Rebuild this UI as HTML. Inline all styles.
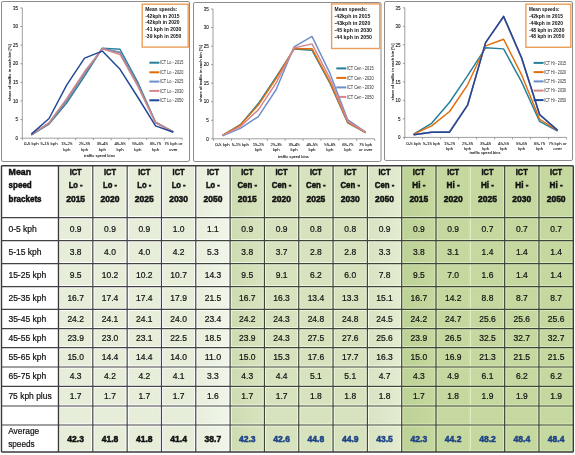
<!DOCTYPE html>
<html><head><meta charset="utf-8"><title>ICT speed distribution</title>
<style>
html,body{margin:0;padding:0;background:#fff;}
body{width:575px;height:455px;position:relative;overflow:hidden;font-family:"Liberation Sans", sans-serif;}
svg text{font-family:"Liberation Sans", sans-serif;}
</style></head><body>
<svg width="575" height="455" viewBox="0 0 575 455" style="position:absolute;left:0;top:0;filter:blur(0.3px)"><rect x="1.5" y="1.5" width="188.0" height="160.0" rx="1.5" fill="#fff" stroke="#8c8c8c" stroke-width="1"/><line x1="22.3" y1="7.9" x2="22.3" y2="138.2" stroke="#868686" stroke-width="0.8"/><line x1="22.3" y1="138.2" x2="182.175" y2="138.2" stroke="#868686" stroke-width="0.8"/><line x1="20.3" y1="138.20" x2="22.3" y2="138.20" stroke="#868686" stroke-width="0.8"/><text x="18.0" y="139.90" font-size="4.5" text-anchor="end" fill="#111" stroke="#111" stroke-width="0.1">0</text><line x1="20.3" y1="119.59" x2="22.3" y2="119.59" stroke="#868686" stroke-width="0.8"/><text x="18.0" y="121.29" font-size="4.5" text-anchor="end" fill="#111" stroke="#111" stroke-width="0.1">5</text><line x1="20.3" y1="100.97" x2="22.3" y2="100.97" stroke="#868686" stroke-width="0.8"/><text x="18.0" y="102.67" font-size="4.5" text-anchor="end" fill="#111" stroke="#111" stroke-width="0.1">10</text><line x1="20.3" y1="82.36" x2="22.3" y2="82.36" stroke="#868686" stroke-width="0.8"/><text x="18.0" y="84.06" font-size="4.5" text-anchor="end" fill="#111" stroke="#111" stroke-width="0.1">15</text><line x1="20.3" y1="63.74" x2="22.3" y2="63.74" stroke="#868686" stroke-width="0.8"/><text x="18.0" y="65.44" font-size="4.5" text-anchor="end" fill="#111" stroke="#111" stroke-width="0.1">20</text><line x1="20.3" y1="45.13" x2="22.3" y2="45.13" stroke="#868686" stroke-width="0.8"/><text x="18.0" y="46.83" font-size="4.5" text-anchor="end" fill="#111" stroke="#111" stroke-width="0.1">25</text><line x1="20.3" y1="26.51" x2="22.3" y2="26.51" stroke="#868686" stroke-width="0.8"/><text x="18.0" y="28.21" font-size="4.5" text-anchor="end" fill="#111" stroke="#111" stroke-width="0.1">30</text><line x1="20.3" y1="7.90" x2="22.3" y2="7.90" stroke="#868686" stroke-width="0.8"/><text x="18.0" y="9.60" font-size="4.5" text-anchor="end" fill="#111" stroke="#111" stroke-width="0.1">35</text><line x1="22.43" y1="138.2" x2="22.43" y2="140.2" stroke="#868686" stroke-width="0.8"/><line x1="40.17" y1="138.2" x2="40.17" y2="140.2" stroke="#868686" stroke-width="0.8"/><line x1="57.92" y1="138.2" x2="57.92" y2="140.2" stroke="#868686" stroke-width="0.8"/><line x1="75.67" y1="138.2" x2="75.67" y2="140.2" stroke="#868686" stroke-width="0.8"/><line x1="93.42" y1="138.2" x2="93.42" y2="140.2" stroke="#868686" stroke-width="0.8"/><line x1="111.17" y1="138.2" x2="111.17" y2="140.2" stroke="#868686" stroke-width="0.8"/><line x1="128.93" y1="138.2" x2="128.93" y2="140.2" stroke="#868686" stroke-width="0.8"/><line x1="146.68" y1="138.2" x2="146.68" y2="140.2" stroke="#868686" stroke-width="0.8"/><line x1="164.43" y1="138.2" x2="164.43" y2="140.2" stroke="#868686" stroke-width="0.8"/><line x1="182.18" y1="138.2" x2="182.18" y2="140.2" stroke="#868686" stroke-width="0.8"/><text x="31.30" y="144.90" font-size="4.4" text-anchor="middle" fill="#151515" stroke="#151515" stroke-width="0.08">0-5 kph</text><text x="49.05" y="144.90" font-size="4.4" text-anchor="middle" fill="#151515" stroke="#151515" stroke-width="0.08">5-15 kph</text><text x="66.80" y="144.90" font-size="4.4" text-anchor="middle" fill="#151515" stroke="#151515" stroke-width="0.08">15-25</text><text x="66.80" y="151.20" font-size="4.4" text-anchor="middle" fill="#151515" stroke="#151515" stroke-width="0.08">kph</text><text x="84.55" y="144.90" font-size="4.4" text-anchor="middle" fill="#151515" stroke="#151515" stroke-width="0.08">25-35</text><text x="84.55" y="151.20" font-size="4.4" text-anchor="middle" fill="#151515" stroke="#151515" stroke-width="0.08">kph</text><text x="102.30" y="144.90" font-size="4.4" text-anchor="middle" fill="#151515" stroke="#151515" stroke-width="0.08">35-45</text><text x="102.30" y="151.20" font-size="4.4" text-anchor="middle" fill="#151515" stroke="#151515" stroke-width="0.08">kph</text><text x="120.05" y="144.90" font-size="4.4" text-anchor="middle" fill="#151515" stroke="#151515" stroke-width="0.08">45-55</text><text x="120.05" y="151.20" font-size="4.4" text-anchor="middle" fill="#151515" stroke="#151515" stroke-width="0.08">kph</text><text x="137.80" y="144.90" font-size="4.4" text-anchor="middle" fill="#151515" stroke="#151515" stroke-width="0.08">55-65</text><text x="137.80" y="151.20" font-size="4.4" text-anchor="middle" fill="#151515" stroke="#151515" stroke-width="0.08">kph</text><text x="155.55" y="144.90" font-size="4.4" text-anchor="middle" fill="#151515" stroke="#151515" stroke-width="0.08">65-75</text><text x="155.55" y="151.20" font-size="4.4" text-anchor="middle" fill="#151515" stroke="#151515" stroke-width="0.08">kph</text><text x="173.30" y="144.90" font-size="4.4" text-anchor="middle" fill="#151515" stroke="#151515" stroke-width="0.08">75 kph or</text><text x="173.30" y="151.20" font-size="4.4" text-anchor="middle" fill="#151515" stroke="#151515" stroke-width="0.08">over</text><text x="99.50" y="156.60" font-size="4.4" font-weight="bold" text-anchor="middle" fill="#111" textLength="31" lengthAdjust="spacingAndGlyphs">traffic speed bins</text><text x="0" y="0" font-size="4.4" font-weight="bold" text-anchor="middle" fill="#111" textLength="57" lengthAdjust="spacingAndGlyphs" transform="translate(11.0,72.7) rotate(-90)">share of traffic in each bin [%]</text><polyline points="31.30,134.85 49.05,124.05 66.80,102.83 84.55,76.03 102.30,48.11 120.05,49.22 137.80,82.36 155.55,122.19 173.30,131.87" fill="none" stroke="#23809A" stroke-width="1.45" stroke-linejoin="round"/><polyline points="31.30,134.85 49.05,123.31 66.80,100.23 84.55,73.42 102.30,48.48 120.05,52.57 137.80,84.59 155.55,122.56 173.30,131.87" fill="none" stroke="#E36C0A" stroke-width="1.45" stroke-linejoin="round"/><polyline points="31.30,134.85 49.05,123.31 66.80,100.23 84.55,73.42 102.30,48.48 120.05,52.20 137.80,84.59 155.55,122.56 173.30,131.87" fill="none" stroke="#6E8DCB" stroke-width="1.45" stroke-linejoin="round"/><polyline points="31.30,134.48 49.05,122.56 66.80,98.37 84.55,71.56 102.30,48.85 120.05,54.44 137.80,86.08 155.55,122.94 173.30,131.87" fill="none" stroke="#D3878A" stroke-width="1.45" stroke-linejoin="round"/><polyline points="31.30,134.10 49.05,118.47 66.80,84.96 84.55,58.16 102.30,51.09 120.05,69.33 137.80,97.25 155.55,125.91 173.30,132.24" fill="none" stroke="#1E4797" stroke-width="1.45" stroke-linejoin="round"/><line x1="149.4" y1="62.7" x2="159.4" y2="62.7" stroke="#23809A" stroke-width="2"/><text x="159.9" y="64.3" font-size="4.5" fill="#2a2a2a" textLength="23.5" lengthAdjust="spacingAndGlyphs">ICT Lo - 2015</text><line x1="149.4" y1="72.3" x2="159.4" y2="72.3" stroke="#E36C0A" stroke-width="2"/><text x="159.9" y="73.89999999999999" font-size="4.5" fill="#2a2a2a" textLength="23.5" lengthAdjust="spacingAndGlyphs">ICT Lo - 2020</text><line x1="149.4" y1="81.6" x2="159.4" y2="81.6" stroke="#6E8DCB" stroke-width="2"/><text x="159.9" y="83.19999999999999" font-size="4.5" fill="#2a2a2a" textLength="23.5" lengthAdjust="spacingAndGlyphs">ICT Lo - 2025</text><line x1="149.4" y1="90.9" x2="159.4" y2="90.9" stroke="#D3878A" stroke-width="2"/><text x="159.9" y="92.5" font-size="4.5" fill="#2a2a2a" textLength="23.5" lengthAdjust="spacingAndGlyphs">ICT Lo - 2030</text><line x1="149.4" y1="100.3" x2="159.4" y2="100.3" stroke="#1E4797" stroke-width="2"/><text x="159.9" y="101.89999999999999" font-size="4.5" fill="#2a2a2a" textLength="23.5" lengthAdjust="spacingAndGlyphs">ICT Lo - 2050</text><rect x="142.2" y="4.2" width="46.0" height="42.9" fill="#fff" stroke="#EC9E58" stroke-width="1.4"/><text x="145.2" y="10.60" font-size="4.9" font-weight="bold" fill="#111" textLength="32" lengthAdjust="spacingAndGlyphs">Mean speeds:</text><text x="145.2" y="17.50" font-size="4.9" font-weight="bold" fill="#111" textLength="34.4" lengthAdjust="spacingAndGlyphs">-42kph in 2015</text><text x="145.2" y="24.40" font-size="4.9" font-weight="bold" fill="#111" textLength="34.4" lengthAdjust="spacingAndGlyphs">-42kph in 2020</text><text x="145.2" y="31.30" font-size="4.9" font-weight="bold" fill="#111" textLength="36.2" lengthAdjust="spacingAndGlyphs">-41 kph in 2030</text><text x="145.2" y="38.20" font-size="4.9" font-weight="bold" fill="#111" textLength="36.2" lengthAdjust="spacingAndGlyphs">-39 kph in 2050</text><rect x="193.5" y="2.5" width="187.5" height="159.0" rx="1.5" fill="#fff" stroke="#8c8c8c" stroke-width="1"/><line x1="213" y1="9.0" x2="213" y2="138.8" stroke="#868686" stroke-width="0.8"/><line x1="213" y1="138.8" x2="374.65" y2="138.8" stroke="#868686" stroke-width="0.8"/><line x1="211" y1="138.80" x2="213" y2="138.80" stroke="#868686" stroke-width="0.8"/><text x="208.7" y="140.50" font-size="4.5" text-anchor="end" fill="#111" stroke="#111" stroke-width="0.1">0</text><line x1="211" y1="120.26" x2="213" y2="120.26" stroke="#868686" stroke-width="0.8"/><text x="208.7" y="121.96" font-size="4.5" text-anchor="end" fill="#111" stroke="#111" stroke-width="0.1">5</text><line x1="211" y1="101.71" x2="213" y2="101.71" stroke="#868686" stroke-width="0.8"/><text x="208.7" y="103.41" font-size="4.5" text-anchor="end" fill="#111" stroke="#111" stroke-width="0.1">10</text><line x1="211" y1="83.17" x2="213" y2="83.17" stroke="#868686" stroke-width="0.8"/><text x="208.7" y="84.87" font-size="4.5" text-anchor="end" fill="#111" stroke="#111" stroke-width="0.1">15</text><line x1="211" y1="64.63" x2="213" y2="64.63" stroke="#868686" stroke-width="0.8"/><text x="208.7" y="66.33" font-size="4.5" text-anchor="end" fill="#111" stroke="#111" stroke-width="0.1">20</text><line x1="211" y1="46.09" x2="213" y2="46.09" stroke="#868686" stroke-width="0.8"/><text x="208.7" y="47.79" font-size="4.5" text-anchor="end" fill="#111" stroke="#111" stroke-width="0.1">25</text><line x1="211" y1="27.54" x2="213" y2="27.54" stroke="#868686" stroke-width="0.8"/><text x="208.7" y="29.24" font-size="4.5" text-anchor="end" fill="#111" stroke="#111" stroke-width="0.1">30</text><line x1="211" y1="9.00" x2="213" y2="9.00" stroke="#868686" stroke-width="0.8"/><text x="208.7" y="10.70" font-size="4.5" text-anchor="end" fill="#111" stroke="#111" stroke-width="0.1">35</text><line x1="213.55" y1="138.8" x2="213.55" y2="140.8" stroke="#868686" stroke-width="0.8"/><line x1="231.45" y1="138.8" x2="231.45" y2="140.8" stroke="#868686" stroke-width="0.8"/><line x1="249.35" y1="138.8" x2="249.35" y2="140.8" stroke="#868686" stroke-width="0.8"/><line x1="267.25" y1="138.8" x2="267.25" y2="140.8" stroke="#868686" stroke-width="0.8"/><line x1="285.15" y1="138.8" x2="285.15" y2="140.8" stroke="#868686" stroke-width="0.8"/><line x1="303.05" y1="138.8" x2="303.05" y2="140.8" stroke="#868686" stroke-width="0.8"/><line x1="320.95" y1="138.8" x2="320.95" y2="140.8" stroke="#868686" stroke-width="0.8"/><line x1="338.85" y1="138.8" x2="338.85" y2="140.8" stroke="#868686" stroke-width="0.8"/><line x1="356.75" y1="138.8" x2="356.75" y2="140.8" stroke="#868686" stroke-width="0.8"/><line x1="374.65" y1="138.8" x2="374.65" y2="140.8" stroke="#868686" stroke-width="0.8"/><text x="222.50" y="145.60" font-size="4.4" text-anchor="middle" fill="#151515" stroke="#151515" stroke-width="0.08">0-5 kph</text><text x="240.40" y="145.60" font-size="4.4" text-anchor="middle" fill="#151515" stroke="#151515" stroke-width="0.08">5-15 kph</text><text x="258.30" y="145.60" font-size="4.4" text-anchor="middle" fill="#151515" stroke="#151515" stroke-width="0.08">15-25</text><text x="258.30" y="151.30" font-size="4.4" text-anchor="middle" fill="#151515" stroke="#151515" stroke-width="0.08">kph</text><text x="276.20" y="145.60" font-size="4.4" text-anchor="middle" fill="#151515" stroke="#151515" stroke-width="0.08">25-35</text><text x="276.20" y="151.30" font-size="4.4" text-anchor="middle" fill="#151515" stroke="#151515" stroke-width="0.08">kph</text><text x="294.10" y="145.60" font-size="4.4" text-anchor="middle" fill="#151515" stroke="#151515" stroke-width="0.08">35-45</text><text x="294.10" y="151.30" font-size="4.4" text-anchor="middle" fill="#151515" stroke="#151515" stroke-width="0.08">kph</text><text x="312.00" y="145.60" font-size="4.4" text-anchor="middle" fill="#151515" stroke="#151515" stroke-width="0.08">45-55</text><text x="312.00" y="151.30" font-size="4.4" text-anchor="middle" fill="#151515" stroke="#151515" stroke-width="0.08">kph</text><text x="329.90" y="145.60" font-size="4.4" text-anchor="middle" fill="#151515" stroke="#151515" stroke-width="0.08">55-65</text><text x="329.90" y="151.30" font-size="4.4" text-anchor="middle" fill="#151515" stroke="#151515" stroke-width="0.08">kph</text><text x="347.80" y="145.60" font-size="4.4" text-anchor="middle" fill="#151515" stroke="#151515" stroke-width="0.08">65-75</text><text x="347.80" y="151.30" font-size="4.4" text-anchor="middle" fill="#151515" stroke="#151515" stroke-width="0.08">kph</text><text x="365.70" y="145.60" font-size="4.4" text-anchor="middle" fill="#151515" stroke="#151515" stroke-width="0.08">75 kph</text><text x="365.70" y="151.30" font-size="4.4" text-anchor="middle" fill="#151515" stroke="#151515" stroke-width="0.08">or over</text><text x="293.40" y="157.50" font-size="4.4" font-weight="bold" text-anchor="middle" fill="#111" textLength="31" lengthAdjust="spacingAndGlyphs">traffic speed bins</text><text x="0" y="0" font-size="4.4" font-weight="bold" text-anchor="middle" fill="#111" textLength="57" lengthAdjust="spacingAndGlyphs" transform="translate(201.9,73.4) rotate(-90)">share of traffic in each bin [%]</text><polyline points="222.50,135.46 240.40,124.71 258.30,103.57 276.20,76.87 294.10,49.05 312.00,50.17 329.90,83.17 347.80,122.85 365.70,132.50" fill="none" stroke="#23809A" stroke-width="1.45" stroke-linejoin="round"/><polyline points="222.50,135.46 240.40,125.08 258.30,105.05 276.20,78.35 294.10,48.68 312.00,48.68 329.90,82.06 347.80,122.48 365.70,132.50" fill="none" stroke="#E36C0A" stroke-width="1.45" stroke-linejoin="round"/><polyline points="222.50,135.83 240.40,128.42 258.30,116.55 276.20,89.48 294.10,46.83 312.00,36.44 329.90,73.16 347.80,119.89 365.70,132.12" fill="none" stroke="#6E8DCB" stroke-width="1.45" stroke-linejoin="round"/><polyline points="222.50,135.46 240.40,126.56 258.30,109.87 276.20,82.80 294.10,47.94 312.00,43.86 329.90,78.35 347.80,121.37 365.70,132.12" fill="none" stroke="#D3878A" stroke-width="1.45" stroke-linejoin="round"/><line x1="336.3" y1="68.4" x2="346.3" y2="68.4" stroke="#23809A" stroke-width="2"/><text x="346.8" y="70.0" font-size="4.5" fill="#2a2a2a" textLength="26.8" lengthAdjust="spacingAndGlyphs">ICT Cen - 2015</text><line x1="336.3" y1="77.9" x2="346.3" y2="77.9" stroke="#E36C0A" stroke-width="2"/><text x="346.8" y="79.5" font-size="4.5" fill="#2a2a2a" textLength="26.8" lengthAdjust="spacingAndGlyphs">ICT Cen - 2020</text><line x1="336.3" y1="87.4" x2="346.3" y2="87.4" stroke="#6E8DCB" stroke-width="2"/><text x="346.8" y="89.0" font-size="4.5" fill="#2a2a2a" textLength="26.8" lengthAdjust="spacingAndGlyphs">ICT Cen - 2030</text><line x1="336.3" y1="96.9" x2="346.3" y2="96.9" stroke="#D3878A" stroke-width="2"/><text x="346.8" y="98.5" font-size="4.5" fill="#2a2a2a" textLength="26.8" lengthAdjust="spacingAndGlyphs">ICT Cen - 2050</text><rect x="331.6" y="3.9" width="48.19999999999999" height="44.6" fill="#fff" stroke="#EC9E58" stroke-width="1.4"/><text x="334.6" y="10.70" font-size="4.9" font-weight="bold" fill="#111" textLength="32.8" lengthAdjust="spacingAndGlyphs">Mean speeds:</text><text x="334.6" y="17.80" font-size="4.9" font-weight="bold" fill="#111" textLength="35.8" lengthAdjust="spacingAndGlyphs">-42kph in 2015</text><text x="334.6" y="24.90" font-size="4.9" font-weight="bold" fill="#111" textLength="35.8" lengthAdjust="spacingAndGlyphs">-43kph in 2020</text><text x="334.6" y="32.00" font-size="4.9" font-weight="bold" fill="#111" textLength="37.4" lengthAdjust="spacingAndGlyphs">-45 kph in 2030</text><text x="334.6" y="39.10" font-size="4.9" font-weight="bold" fill="#111" textLength="37.4" lengthAdjust="spacingAndGlyphs">-44 kph in 2050</text><rect x="384.5" y="1.5" width="188.0" height="159.0" rx="1.5" fill="#fff" stroke="#8c8c8c" stroke-width="1"/><line x1="404.8" y1="7.8" x2="404.8" y2="137.4" stroke="#868686" stroke-width="0.8"/><line x1="404.8" y1="137.4" x2="566.6" y2="137.4" stroke="#868686" stroke-width="0.8"/><line x1="402.8" y1="137.40" x2="404.8" y2="137.40" stroke="#868686" stroke-width="0.8"/><text x="400.5" y="139.10" font-size="4.5" text-anchor="end" fill="#111" stroke="#111" stroke-width="0.1">0</text><line x1="402.8" y1="118.89" x2="404.8" y2="118.89" stroke="#868686" stroke-width="0.8"/><text x="400.5" y="120.59" font-size="4.5" text-anchor="end" fill="#111" stroke="#111" stroke-width="0.1">5</text><line x1="402.8" y1="100.37" x2="404.8" y2="100.37" stroke="#868686" stroke-width="0.8"/><text x="400.5" y="102.07" font-size="4.5" text-anchor="end" fill="#111" stroke="#111" stroke-width="0.1">10</text><line x1="402.8" y1="81.86" x2="404.8" y2="81.86" stroke="#868686" stroke-width="0.8"/><text x="400.5" y="83.56" font-size="4.5" text-anchor="end" fill="#111" stroke="#111" stroke-width="0.1">15</text><line x1="402.8" y1="63.34" x2="404.8" y2="63.34" stroke="#868686" stroke-width="0.8"/><text x="400.5" y="65.04" font-size="4.5" text-anchor="end" fill="#111" stroke="#111" stroke-width="0.1">20</text><line x1="402.8" y1="44.83" x2="404.8" y2="44.83" stroke="#868686" stroke-width="0.8"/><text x="400.5" y="46.53" font-size="4.5" text-anchor="end" fill="#111" stroke="#111" stroke-width="0.1">25</text><line x1="402.8" y1="26.31" x2="404.8" y2="26.31" stroke="#868686" stroke-width="0.8"/><text x="400.5" y="28.01" font-size="4.5" text-anchor="end" fill="#111" stroke="#111" stroke-width="0.1">30</text><line x1="402.8" y1="7.80" x2="404.8" y2="7.80" stroke="#868686" stroke-width="0.8"/><text x="400.5" y="9.50" font-size="4.5" text-anchor="end" fill="#111" stroke="#111" stroke-width="0.1">35</text><line x1="404.60" y1="137.4" x2="404.60" y2="139.4" stroke="#868686" stroke-width="0.8"/><line x1="422.60" y1="137.4" x2="422.60" y2="139.4" stroke="#868686" stroke-width="0.8"/><line x1="440.60" y1="137.4" x2="440.60" y2="139.4" stroke="#868686" stroke-width="0.8"/><line x1="458.60" y1="137.4" x2="458.60" y2="139.4" stroke="#868686" stroke-width="0.8"/><line x1="476.60" y1="137.4" x2="476.60" y2="139.4" stroke="#868686" stroke-width="0.8"/><line x1="494.60" y1="137.4" x2="494.60" y2="139.4" stroke="#868686" stroke-width="0.8"/><line x1="512.60" y1="137.4" x2="512.60" y2="139.4" stroke="#868686" stroke-width="0.8"/><line x1="530.60" y1="137.4" x2="530.60" y2="139.4" stroke="#868686" stroke-width="0.8"/><line x1="548.60" y1="137.4" x2="548.60" y2="139.4" stroke="#868686" stroke-width="0.8"/><line x1="566.60" y1="137.4" x2="566.60" y2="139.4" stroke="#868686" stroke-width="0.8"/><text x="413.60" y="145.00" font-size="4.4" text-anchor="middle" fill="#151515" stroke="#151515" stroke-width="0.08">0-5 kph</text><text x="431.60" y="145.00" font-size="4.4" text-anchor="middle" fill="#151515" stroke="#151515" stroke-width="0.08">5-15 kph</text><text x="449.60" y="145.00" font-size="4.4" text-anchor="middle" fill="#151515" stroke="#151515" stroke-width="0.08">15-25</text><text x="449.60" y="150.00" font-size="4.4" text-anchor="middle" fill="#151515" stroke="#151515" stroke-width="0.08">kph</text><text x="467.60" y="145.00" font-size="4.4" text-anchor="middle" fill="#151515" stroke="#151515" stroke-width="0.08">25-35</text><text x="467.60" y="150.00" font-size="4.4" text-anchor="middle" fill="#151515" stroke="#151515" stroke-width="0.08">kph</text><text x="485.60" y="145.00" font-size="4.4" text-anchor="middle" fill="#151515" stroke="#151515" stroke-width="0.08">35-45</text><text x="485.60" y="150.00" font-size="4.4" text-anchor="middle" fill="#151515" stroke="#151515" stroke-width="0.08">kph</text><text x="503.60" y="145.00" font-size="4.4" text-anchor="middle" fill="#151515" stroke="#151515" stroke-width="0.08">45-55</text><text x="503.60" y="150.00" font-size="4.4" text-anchor="middle" fill="#151515" stroke="#151515" stroke-width="0.08">kph</text><text x="521.60" y="145.00" font-size="4.4" text-anchor="middle" fill="#151515" stroke="#151515" stroke-width="0.08">55-65</text><text x="521.60" y="150.00" font-size="4.4" text-anchor="middle" fill="#151515" stroke="#151515" stroke-width="0.08">kph</text><text x="539.60" y="145.00" font-size="4.4" text-anchor="middle" fill="#151515" stroke="#151515" stroke-width="0.08">65-75</text><text x="539.60" y="150.00" font-size="4.4" text-anchor="middle" fill="#151515" stroke="#151515" stroke-width="0.08">kph</text><text x="557.60" y="145.00" font-size="4.4" text-anchor="middle" fill="#151515" stroke="#151515" stroke-width="0.08">75 kph or</text><text x="557.60" y="150.00" font-size="4.4" text-anchor="middle" fill="#151515" stroke="#151515" stroke-width="0.08">over</text><text x="485.00" y="153.90" font-size="4.4" font-weight="bold" text-anchor="middle" fill="#111" textLength="31" lengthAdjust="spacingAndGlyphs">traffic speed bins</text><text x="0" y="0" font-size="4.4" font-weight="bold" text-anchor="middle" fill="#111" textLength="57" lengthAdjust="spacingAndGlyphs" transform="translate(393.9,72.0) rotate(-90)">share of traffic in each bin [%]</text><polyline points="413.60,134.07 431.60,123.33 449.60,102.22 467.60,75.56 485.60,47.79 503.60,48.90 521.60,81.86 539.60,121.48 557.60,131.11" fill="none" stroke="#23809A" stroke-width="1.45" stroke-linejoin="round"/><polyline points="413.60,134.07 431.60,125.92 449.60,111.48 467.60,84.82 485.60,45.94 503.60,39.27 521.60,74.82 539.60,119.26 557.60,130.73" fill="none" stroke="#E36C0A" stroke-width="1.45" stroke-linejoin="round"/><polyline points="413.60,134.81 431.60,132.22 449.60,131.48 467.60,104.81 485.60,42.61 503.60,17.06 521.60,58.53 539.60,114.81 557.60,130.36" fill="none" stroke="#6E8DCB" stroke-width="1.45" stroke-linejoin="round"/><polyline points="413.60,134.81 431.60,132.22 449.60,132.22 467.60,105.19 485.60,42.61 503.60,16.32 521.60,57.79 539.60,114.44 557.60,130.36" fill="none" stroke="#D3878A" stroke-width="1.45" stroke-linejoin="round"/><polyline points="413.60,134.81 431.60,132.22 449.60,132.22 467.60,105.19 485.60,42.61 503.60,16.32 521.60,57.79 539.60,114.44 557.60,130.36" fill="none" stroke="#1E4797" stroke-width="1.45" stroke-linejoin="round"/><line x1="533.6" y1="62.9" x2="543.6" y2="62.9" stroke="#23809A" stroke-width="2"/><text x="544.1" y="64.5" font-size="4.5" fill="#2a2a2a" textLength="22.0" lengthAdjust="spacingAndGlyphs">ICT Hi - 2015</text><line x1="533.6" y1="72.1" x2="543.6" y2="72.1" stroke="#E36C0A" stroke-width="2"/><text x="544.1" y="73.69999999999999" font-size="4.5" fill="#2a2a2a" textLength="22.0" lengthAdjust="spacingAndGlyphs">ICT Hi - 2020</text><line x1="533.6" y1="81.4" x2="543.6" y2="81.4" stroke="#6E8DCB" stroke-width="2"/><text x="544.1" y="83.0" font-size="4.5" fill="#2a2a2a" textLength="22.0" lengthAdjust="spacingAndGlyphs">ICT Hi - 2025</text><line x1="533.6" y1="90.6" x2="543.6" y2="90.6" stroke="#D3878A" stroke-width="2"/><text x="544.1" y="92.19999999999999" font-size="4.5" fill="#2a2a2a" textLength="22.0" lengthAdjust="spacingAndGlyphs">ICT Hi - 2030</text><line x1="533.6" y1="100.1" x2="543.6" y2="100.1" stroke="#1E4797" stroke-width="2"/><text x="544.1" y="101.69999999999999" font-size="4.5" fill="#2a2a2a" textLength="22.0" lengthAdjust="spacingAndGlyphs">ICT Hi - 2050</text><rect x="525.9" y="4.2" width="44.89999999999998" height="43.099999999999994" fill="#fff" stroke="#EC9E58" stroke-width="1.4"/><text x="528.9" y="10.80" font-size="4.9" font-weight="bold" fill="#111" textLength="30.6" lengthAdjust="spacingAndGlyphs">Mean speeds:</text><text x="528.9" y="17.70" font-size="4.9" font-weight="bold" fill="#111" textLength="34.1" lengthAdjust="spacingAndGlyphs">-42kph in 2015</text><text x="528.9" y="24.60" font-size="4.9" font-weight="bold" fill="#111" textLength="34.1" lengthAdjust="spacingAndGlyphs">-44kph in 2020</text><text x="528.9" y="31.50" font-size="4.9" font-weight="bold" fill="#111" textLength="35.5" lengthAdjust="spacingAndGlyphs">-48 kph in 2030</text><text x="528.9" y="38.40" font-size="4.9" font-weight="bold" fill="#111" textLength="35.5" lengthAdjust="spacingAndGlyphs">-48 kph in 2050</text><defs><linearGradient id="g4" x1="0" y1="0" x2="1" y2="0"><stop offset="0" stop-color="#E8EFDC"/><stop offset="1" stop-color="#F0F5E9"/></linearGradient><linearGradient id="g5" x1="0" y1="0" x2="1" y2="0"><stop offset="0" stop-color="#CEDCB2"/><stop offset="1" stop-color="#D7E3BE"/></linearGradient><linearGradient id="g9" x1="0" y1="0" x2="1" y2="0"><stop offset="0" stop-color="#D9E4C3"/><stop offset="1" stop-color="#E3EBD1"/></linearGradient><linearGradient id="g10" x1="0" y1="0" x2="1" y2="0"><stop offset="0" stop-color="#BDD296"/><stop offset="1" stop-color="#C5D89F"/></linearGradient></defs><rect x="1.5" y="165.7" width="57.0" height="286.3" fill="#fff"/><rect x="58.5" y="165.7" width="34.31999999999999" height="286.3" fill="#FFFFFF"/><rect x="60.10" y="167.20" width="31.12" height="49.00" fill="#E6EDD9"/><rect x="60.10" y="219.20" width="31.12" height="19.90" fill="#E6EDD9"/><rect x="60.10" y="242.10" width="31.12" height="20.00" fill="#E6EDD9"/><rect x="60.10" y="265.10" width="31.12" height="20.10" fill="#E6EDD9"/><rect x="60.10" y="288.20" width="31.12" height="19.70" fill="#E6EDD9"/><rect x="60.10" y="310.90" width="31.12" height="16.20" fill="#E6EDD9"/><rect x="60.10" y="330.10" width="31.12" height="16.10" fill="#E6EDD9"/><rect x="60.10" y="349.20" width="31.12" height="16.30" fill="#E6EDD9"/><rect x="60.10" y="368.50" width="31.12" height="16.40" fill="#E6EDD9"/><rect x="60.10" y="387.90" width="31.12" height="16.60" fill="#E6EDD9"/><rect x="60.10" y="407.50" width="31.12" height="16.00" fill="#E6EDD9"/><rect x="60.10" y="426.50" width="31.12" height="24.00" fill="#E6EDD9"/><rect x="92.82" y="165.7" width="34.32000000000001" height="286.3" fill="#FFFFFF"/><rect x="94.42" y="167.20" width="31.12" height="49.00" fill="#E6EDD9"/><rect x="94.42" y="219.20" width="31.12" height="19.90" fill="#E6EDD9"/><rect x="94.42" y="242.10" width="31.12" height="20.00" fill="#E6EDD9"/><rect x="94.42" y="265.10" width="31.12" height="20.10" fill="#E6EDD9"/><rect x="94.42" y="288.20" width="31.12" height="19.70" fill="#E6EDD9"/><rect x="94.42" y="310.90" width="31.12" height="16.20" fill="#E6EDD9"/><rect x="94.42" y="330.10" width="31.12" height="16.10" fill="#E6EDD9"/><rect x="94.42" y="349.20" width="31.12" height="16.30" fill="#E6EDD9"/><rect x="94.42" y="368.50" width="31.12" height="16.40" fill="#E6EDD9"/><rect x="94.42" y="387.90" width="31.12" height="16.60" fill="#E6EDD9"/><rect x="94.42" y="407.50" width="31.12" height="16.00" fill="#E6EDD9"/><rect x="94.42" y="426.50" width="31.12" height="24.00" fill="#E6EDD9"/><rect x="127.14" y="165.7" width="34.32000000000001" height="286.3" fill="#FFFFFF"/><rect x="128.74" y="167.20" width="31.12" height="49.00" fill="#E6EDD9"/><rect x="128.74" y="219.20" width="31.12" height="19.90" fill="#E6EDD9"/><rect x="128.74" y="242.10" width="31.12" height="20.00" fill="#E6EDD9"/><rect x="128.74" y="265.10" width="31.12" height="20.10" fill="#E6EDD9"/><rect x="128.74" y="288.20" width="31.12" height="19.70" fill="#E6EDD9"/><rect x="128.74" y="310.90" width="31.12" height="16.20" fill="#E6EDD9"/><rect x="128.74" y="330.10" width="31.12" height="16.10" fill="#E6EDD9"/><rect x="128.74" y="349.20" width="31.12" height="16.30" fill="#E6EDD9"/><rect x="128.74" y="368.50" width="31.12" height="16.40" fill="#E6EDD9"/><rect x="128.74" y="387.90" width="31.12" height="16.60" fill="#E6EDD9"/><rect x="128.74" y="407.50" width="31.12" height="16.00" fill="#E6EDD9"/><rect x="128.74" y="426.50" width="31.12" height="24.00" fill="#E6EDD9"/><rect x="161.46" y="165.7" width="34.31999999999999" height="286.3" fill="#FFFFFF"/><rect x="163.06" y="167.20" width="31.12" height="49.00" fill="#E6EDD9"/><rect x="163.06" y="219.20" width="31.12" height="19.90" fill="#E6EDD9"/><rect x="163.06" y="242.10" width="31.12" height="20.00" fill="#E6EDD9"/><rect x="163.06" y="265.10" width="31.12" height="20.10" fill="#E6EDD9"/><rect x="163.06" y="288.20" width="31.12" height="19.70" fill="#E6EDD9"/><rect x="163.06" y="310.90" width="31.12" height="16.20" fill="#E6EDD9"/><rect x="163.06" y="330.10" width="31.12" height="16.10" fill="#E6EDD9"/><rect x="163.06" y="349.20" width="31.12" height="16.30" fill="#E6EDD9"/><rect x="163.06" y="368.50" width="31.12" height="16.40" fill="#E6EDD9"/><rect x="163.06" y="387.90" width="31.12" height="16.60" fill="#E6EDD9"/><rect x="163.06" y="407.50" width="31.12" height="16.00" fill="#E6EDD9"/><rect x="163.06" y="426.50" width="31.12" height="24.00" fill="#E6EDD9"/><rect x="195.78" y="165.7" width="34.31999999999999" height="286.3" fill="#FFFFFF"/><rect x="197.38" y="167.20" width="31.12" height="49.00" fill="url(#g4)"/><rect x="197.38" y="219.20" width="31.12" height="19.90" fill="url(#g4)"/><rect x="197.38" y="242.10" width="31.12" height="20.00" fill="url(#g4)"/><rect x="197.38" y="265.10" width="31.12" height="20.10" fill="url(#g4)"/><rect x="197.38" y="288.20" width="31.12" height="19.70" fill="url(#g4)"/><rect x="197.38" y="310.90" width="31.12" height="16.20" fill="url(#g4)"/><rect x="197.38" y="330.10" width="31.12" height="16.10" fill="url(#g4)"/><rect x="197.38" y="349.20" width="31.12" height="16.30" fill="url(#g4)"/><rect x="197.38" y="368.50" width="31.12" height="16.40" fill="url(#g4)"/><rect x="197.38" y="387.90" width="31.12" height="16.60" fill="url(#g4)"/><rect x="197.38" y="407.50" width="31.12" height="16.00" fill="url(#g4)"/><rect x="197.38" y="426.50" width="31.12" height="24.00" fill="url(#g4)"/><rect x="230.1" y="165.7" width="34.32000000000002" height="286.3" fill="#F2F8E2"/><rect x="231.70" y="167.20" width="31.12" height="49.00" fill="url(#g5)"/><rect x="231.70" y="219.20" width="31.12" height="19.90" fill="url(#g5)"/><rect x="231.70" y="242.10" width="31.12" height="20.00" fill="url(#g5)"/><rect x="231.70" y="265.10" width="31.12" height="20.10" fill="url(#g5)"/><rect x="231.70" y="288.20" width="31.12" height="19.70" fill="url(#g5)"/><rect x="231.70" y="310.90" width="31.12" height="16.20" fill="url(#g5)"/><rect x="231.70" y="330.10" width="31.12" height="16.10" fill="url(#g5)"/><rect x="231.70" y="349.20" width="31.12" height="16.30" fill="url(#g5)"/><rect x="231.70" y="368.50" width="31.12" height="16.40" fill="url(#g5)"/><rect x="231.70" y="387.90" width="31.12" height="16.60" fill="url(#g5)"/><rect x="231.70" y="407.50" width="31.12" height="16.00" fill="url(#g5)"/><rect x="231.70" y="426.50" width="31.12" height="24.00" fill="url(#g5)"/><rect x="264.42" y="165.7" width="34.31999999999999" height="286.3" fill="#F2F8E2"/><rect x="266.02" y="167.20" width="31.12" height="49.00" fill="#D7E3BE"/><rect x="266.02" y="219.20" width="31.12" height="19.90" fill="#D7E3BE"/><rect x="266.02" y="242.10" width="31.12" height="20.00" fill="#D7E3BE"/><rect x="266.02" y="265.10" width="31.12" height="20.10" fill="#D7E3BE"/><rect x="266.02" y="288.20" width="31.12" height="19.70" fill="#D7E3BE"/><rect x="266.02" y="310.90" width="31.12" height="16.20" fill="#D7E3BE"/><rect x="266.02" y="330.10" width="31.12" height="16.10" fill="#D7E3BE"/><rect x="266.02" y="349.20" width="31.12" height="16.30" fill="#D7E3BE"/><rect x="266.02" y="368.50" width="31.12" height="16.40" fill="#D7E3BE"/><rect x="266.02" y="387.90" width="31.12" height="16.60" fill="#D7E3BE"/><rect x="266.02" y="407.50" width="31.12" height="16.00" fill="#D7E3BE"/><rect x="266.02" y="426.50" width="31.12" height="24.00" fill="#D7E3BE"/><rect x="298.74" y="165.7" width="34.31999999999999" height="286.3" fill="#F2F8E2"/><rect x="300.34" y="167.20" width="31.12" height="49.00" fill="#D7E3BE"/><rect x="300.34" y="219.20" width="31.12" height="19.90" fill="#D7E3BE"/><rect x="300.34" y="242.10" width="31.12" height="20.00" fill="#D7E3BE"/><rect x="300.34" y="265.10" width="31.12" height="20.10" fill="#D7E3BE"/><rect x="300.34" y="288.20" width="31.12" height="19.70" fill="#D7E3BE"/><rect x="300.34" y="310.90" width="31.12" height="16.20" fill="#D7E3BE"/><rect x="300.34" y="330.10" width="31.12" height="16.10" fill="#D7E3BE"/><rect x="300.34" y="349.20" width="31.12" height="16.30" fill="#D7E3BE"/><rect x="300.34" y="368.50" width="31.12" height="16.40" fill="#D7E3BE"/><rect x="300.34" y="387.90" width="31.12" height="16.60" fill="#D7E3BE"/><rect x="300.34" y="407.50" width="31.12" height="16.00" fill="#D7E3BE"/><rect x="300.34" y="426.50" width="31.12" height="24.00" fill="#D7E3BE"/><rect x="333.06" y="165.7" width="34.31999999999999" height="286.3" fill="#F2F8E2"/><rect x="334.66" y="167.20" width="31.12" height="49.00" fill="#D7E3BE"/><rect x="334.66" y="219.20" width="31.12" height="19.90" fill="#D7E3BE"/><rect x="334.66" y="242.10" width="31.12" height="20.00" fill="#D7E3BE"/><rect x="334.66" y="265.10" width="31.12" height="20.10" fill="#D7E3BE"/><rect x="334.66" y="288.20" width="31.12" height="19.70" fill="#D7E3BE"/><rect x="334.66" y="310.90" width="31.12" height="16.20" fill="#D7E3BE"/><rect x="334.66" y="330.10" width="31.12" height="16.10" fill="#D7E3BE"/><rect x="334.66" y="349.20" width="31.12" height="16.30" fill="#D7E3BE"/><rect x="334.66" y="368.50" width="31.12" height="16.40" fill="#D7E3BE"/><rect x="334.66" y="387.90" width="31.12" height="16.60" fill="#D7E3BE"/><rect x="334.66" y="407.50" width="31.12" height="16.00" fill="#D7E3BE"/><rect x="334.66" y="426.50" width="31.12" height="24.00" fill="#D7E3BE"/><rect x="367.38" y="165.7" width="34.31999999999999" height="286.3" fill="#F2F8E2"/><rect x="368.98" y="167.20" width="31.12" height="49.00" fill="url(#g9)"/><rect x="368.98" y="219.20" width="31.12" height="19.90" fill="url(#g9)"/><rect x="368.98" y="242.10" width="31.12" height="20.00" fill="url(#g9)"/><rect x="368.98" y="265.10" width="31.12" height="20.10" fill="url(#g9)"/><rect x="368.98" y="288.20" width="31.12" height="19.70" fill="url(#g9)"/><rect x="368.98" y="310.90" width="31.12" height="16.20" fill="url(#g9)"/><rect x="368.98" y="330.10" width="31.12" height="16.10" fill="url(#g9)"/><rect x="368.98" y="349.20" width="31.12" height="16.30" fill="url(#g9)"/><rect x="368.98" y="368.50" width="31.12" height="16.40" fill="url(#g9)"/><rect x="368.98" y="387.90" width="31.12" height="16.60" fill="url(#g9)"/><rect x="368.98" y="407.50" width="31.12" height="16.00" fill="url(#g9)"/><rect x="368.98" y="426.50" width="31.12" height="24.00" fill="url(#g9)"/><rect x="401.7" y="165.7" width="34.31999999999999" height="286.3" fill="#DDEBBD"/><rect x="403.30" y="167.20" width="31.12" height="49.00" fill="url(#g10)"/><rect x="403.30" y="219.20" width="31.12" height="19.90" fill="url(#g10)"/><rect x="403.30" y="242.10" width="31.12" height="20.00" fill="url(#g10)"/><rect x="403.30" y="265.10" width="31.12" height="20.10" fill="url(#g10)"/><rect x="403.30" y="288.20" width="31.12" height="19.70" fill="url(#g10)"/><rect x="403.30" y="310.90" width="31.12" height="16.20" fill="url(#g10)"/><rect x="403.30" y="330.10" width="31.12" height="16.10" fill="url(#g10)"/><rect x="403.30" y="349.20" width="31.12" height="16.30" fill="url(#g10)"/><rect x="403.30" y="368.50" width="31.12" height="16.40" fill="url(#g10)"/><rect x="403.30" y="387.90" width="31.12" height="16.60" fill="url(#g10)"/><rect x="403.30" y="407.50" width="31.12" height="16.00" fill="url(#g10)"/><rect x="403.30" y="426.50" width="31.12" height="24.00" fill="url(#g10)"/><rect x="436.02" y="165.7" width="34.32000000000005" height="286.3" fill="#DDEBBD"/><rect x="437.62" y="167.20" width="31.12" height="49.00" fill="#C5D89F"/><rect x="437.62" y="219.20" width="31.12" height="19.90" fill="#C5D89F"/><rect x="437.62" y="242.10" width="31.12" height="20.00" fill="#C5D89F"/><rect x="437.62" y="265.10" width="31.12" height="20.10" fill="#C5D89F"/><rect x="437.62" y="288.20" width="31.12" height="19.70" fill="#C5D89F"/><rect x="437.62" y="310.90" width="31.12" height="16.20" fill="#C5D89F"/><rect x="437.62" y="330.10" width="31.12" height="16.10" fill="#C5D89F"/><rect x="437.62" y="349.20" width="31.12" height="16.30" fill="#C5D89F"/><rect x="437.62" y="368.50" width="31.12" height="16.40" fill="#C5D89F"/><rect x="437.62" y="387.90" width="31.12" height="16.60" fill="#C5D89F"/><rect x="437.62" y="407.50" width="31.12" height="16.00" fill="#C5D89F"/><rect x="437.62" y="426.50" width="31.12" height="24.00" fill="#C5D89F"/><rect x="470.34000000000003" y="165.7" width="34.31999999999999" height="286.3" fill="#DDEBBD"/><rect x="471.94" y="167.20" width="31.12" height="49.00" fill="#C5D89F"/><rect x="471.94" y="219.20" width="31.12" height="19.90" fill="#C5D89F"/><rect x="471.94" y="242.10" width="31.12" height="20.00" fill="#C5D89F"/><rect x="471.94" y="265.10" width="31.12" height="20.10" fill="#C5D89F"/><rect x="471.94" y="288.20" width="31.12" height="19.70" fill="#C5D89F"/><rect x="471.94" y="310.90" width="31.12" height="16.20" fill="#C5D89F"/><rect x="471.94" y="330.10" width="31.12" height="16.10" fill="#C5D89F"/><rect x="471.94" y="349.20" width="31.12" height="16.30" fill="#C5D89F"/><rect x="471.94" y="368.50" width="31.12" height="16.40" fill="#C5D89F"/><rect x="471.94" y="387.90" width="31.12" height="16.60" fill="#C5D89F"/><rect x="471.94" y="407.50" width="31.12" height="16.00" fill="#C5D89F"/><rect x="471.94" y="426.50" width="31.12" height="24.00" fill="#C5D89F"/><rect x="504.66" y="165.7" width="34.31999999999999" height="286.3" fill="#DDEBBD"/><rect x="506.26" y="167.20" width="31.12" height="49.00" fill="#C5D89F"/><rect x="506.26" y="219.20" width="31.12" height="19.90" fill="#C5D89F"/><rect x="506.26" y="242.10" width="31.12" height="20.00" fill="#C5D89F"/><rect x="506.26" y="265.10" width="31.12" height="20.10" fill="#C5D89F"/><rect x="506.26" y="288.20" width="31.12" height="19.70" fill="#C5D89F"/><rect x="506.26" y="310.90" width="31.12" height="16.20" fill="#C5D89F"/><rect x="506.26" y="330.10" width="31.12" height="16.10" fill="#C5D89F"/><rect x="506.26" y="349.20" width="31.12" height="16.30" fill="#C5D89F"/><rect x="506.26" y="368.50" width="31.12" height="16.40" fill="#C5D89F"/><rect x="506.26" y="387.90" width="31.12" height="16.60" fill="#C5D89F"/><rect x="506.26" y="407.50" width="31.12" height="16.00" fill="#C5D89F"/><rect x="506.26" y="426.50" width="31.12" height="24.00" fill="#C5D89F"/><rect x="538.98" y="165.7" width="34.319999999999936" height="286.3" fill="#DDEBBD"/><rect x="540.58" y="167.20" width="31.12" height="49.00" fill="#C5D89F"/><rect x="540.58" y="219.20" width="31.12" height="19.90" fill="#C5D89F"/><rect x="540.58" y="242.10" width="31.12" height="20.00" fill="#C5D89F"/><rect x="540.58" y="265.10" width="31.12" height="20.10" fill="#C5D89F"/><rect x="540.58" y="288.20" width="31.12" height="19.70" fill="#C5D89F"/><rect x="540.58" y="310.90" width="31.12" height="16.20" fill="#C5D89F"/><rect x="540.58" y="330.10" width="31.12" height="16.10" fill="#C5D89F"/><rect x="540.58" y="349.20" width="31.12" height="16.30" fill="#C5D89F"/><rect x="540.58" y="368.50" width="31.12" height="16.40" fill="#C5D89F"/><rect x="540.58" y="387.90" width="31.12" height="16.60" fill="#C5D89F"/><rect x="540.58" y="407.50" width="31.12" height="16.00" fill="#C5D89F"/><rect x="540.58" y="426.50" width="31.12" height="24.00" fill="#C5D89F"/><rect x="468.64" y="167.20" width="3.4" height="49.00" fill="#C5D89F"/><rect x="468.64" y="219.20" width="3.4" height="19.90" fill="#C5D89F"/><rect x="468.64" y="242.10" width="3.4" height="20.00" fill="#C5D89F"/><rect x="468.64" y="265.10" width="3.4" height="20.10" fill="#C5D89F"/><rect x="468.64" y="288.20" width="3.4" height="19.70" fill="#C5D89F"/><rect x="468.64" y="310.90" width="3.4" height="16.20" fill="#C5D89F"/><rect x="468.64" y="330.10" width="3.4" height="16.10" fill="#C5D89F"/><rect x="468.64" y="349.20" width="3.4" height="16.30" fill="#C5D89F"/><rect x="468.64" y="368.50" width="3.4" height="16.40" fill="#C5D89F"/><rect x="468.64" y="387.90" width="3.4" height="16.60" fill="#C5D89F"/><rect x="468.64" y="407.50" width="3.4" height="16.00" fill="#C5D89F"/><rect x="468.64" y="426.50" width="3.4" height="24.00" fill="#C5D89F"/><line x1="470.34" y1="165.7" x2="470.34" y2="452.0" stroke="#E3EFC8" stroke-width="1.1"/><line x1="1.50" y1="165.7" x2="1.50" y2="452.0" stroke="#3a3a3a" stroke-width="1.4"/><line x1="58.50" y1="165.7" x2="58.50" y2="452.0" stroke="#3a3a3a" stroke-width="1.4"/><line x1="92.82" y1="165.7" x2="92.82" y2="452.0" stroke="#434343" stroke-width="1.2"/><line x1="127.14" y1="165.7" x2="127.14" y2="452.0" stroke="#434343" stroke-width="1.2"/><line x1="161.46" y1="165.7" x2="161.46" y2="452.0" stroke="#434343" stroke-width="1.2"/><line x1="195.78" y1="165.7" x2="195.78" y2="452.0" stroke="#434343" stroke-width="1.2"/><line x1="230.10" y1="165.7" x2="230.10" y2="452.0" stroke="#3e463a" stroke-width="1.2"/><line x1="264.42" y1="165.7" x2="264.42" y2="452.0" stroke="#3e463a" stroke-width="1.2"/><line x1="298.74" y1="165.7" x2="298.74" y2="452.0" stroke="#3e463a" stroke-width="1.2"/><line x1="333.06" y1="165.7" x2="333.06" y2="452.0" stroke="#3e463a" stroke-width="1.2"/><line x1="367.38" y1="165.7" x2="367.38" y2="452.0" stroke="#3e463a" stroke-width="1.2"/><line x1="401.70" y1="165.7" x2="401.70" y2="452.0" stroke="#3e463a" stroke-width="1.2"/><line x1="436.02" y1="165.7" x2="436.02" y2="452.0" stroke="#3e463a" stroke-width="1.2"/><line x1="504.66" y1="165.7" x2="504.66" y2="452.0" stroke="#3e463a" stroke-width="1.2"/><line x1="538.98" y1="165.7" x2="538.98" y2="452.0" stroke="#3e463a" stroke-width="1.2"/><line x1="573.30" y1="165.7" x2="573.30" y2="452.0" stroke="#3a3a3a" stroke-width="1.4"/><line x1="1.5" y1="165.7" x2="161.46" y2="165.7" stroke="#3a3a3a" stroke-width="1.4"/><line x1="161.46" y1="165.7" x2="573.30" y2="165.7" stroke="#3a3a3a" stroke-width="1.4"/><line x1="1.5" y1="217.7" x2="161.46" y2="217.7" stroke="#434343" stroke-width="1.2"/><line x1="161.46" y1="217.7" x2="573.30" y2="217.7" stroke="#3e463a" stroke-width="1.2"/><line x1="1.5" y1="240.6" x2="161.46" y2="240.6" stroke="#434343" stroke-width="1.2"/><line x1="161.46" y1="240.6" x2="573.30" y2="240.6" stroke="#3e463a" stroke-width="1.2"/><line x1="1.5" y1="263.6" x2="161.46" y2="263.6" stroke="#434343" stroke-width="1.2"/><line x1="161.46" y1="263.6" x2="573.30" y2="263.6" stroke="#3e463a" stroke-width="1.2"/><line x1="1.5" y1="286.7" x2="161.46" y2="286.7" stroke="#434343" stroke-width="1.2"/><line x1="161.46" y1="286.7" x2="573.30" y2="286.7" stroke="#3e463a" stroke-width="1.2"/><line x1="1.5" y1="309.4" x2="161.46" y2="309.4" stroke="#434343" stroke-width="1.2"/><line x1="161.46" y1="309.4" x2="573.30" y2="309.4" stroke="#3e463a" stroke-width="1.2"/><line x1="1.5" y1="328.6" x2="161.46" y2="328.6" stroke="#434343" stroke-width="1.2"/><line x1="161.46" y1="328.6" x2="573.30" y2="328.6" stroke="#3e463a" stroke-width="1.2"/><line x1="1.5" y1="347.7" x2="161.46" y2="347.7" stroke="#434343" stroke-width="1.2"/><line x1="161.46" y1="347.7" x2="573.30" y2="347.7" stroke="#3e463a" stroke-width="1.2"/><line x1="1.5" y1="367.0" x2="161.46" y2="367.0" stroke="#434343" stroke-width="1.2"/><line x1="161.46" y1="367.0" x2="573.30" y2="367.0" stroke="#3e463a" stroke-width="1.2"/><line x1="1.5" y1="386.4" x2="161.46" y2="386.4" stroke="#434343" stroke-width="1.2"/><line x1="161.46" y1="386.4" x2="573.30" y2="386.4" stroke="#3e463a" stroke-width="1.2"/><line x1="1.5" y1="406.0" x2="161.46" y2="406.0" stroke="#434343" stroke-width="1.2"/><line x1="161.46" y1="406.0" x2="573.30" y2="406.0" stroke="#3e463a" stroke-width="1.2"/><line x1="1.5" y1="425.0" x2="161.46" y2="425.0" stroke="#434343" stroke-width="1.2"/><line x1="161.46" y1="425.0" x2="573.30" y2="425.0" stroke="#3e463a" stroke-width="1.2"/><line x1="1.5" y1="452.0" x2="161.46" y2="452.0" stroke="#3a3a3a" stroke-width="1.4"/><line x1="161.46" y1="452.0" x2="573.30" y2="452.0" stroke="#3a3a3a" stroke-width="1.4"/><text x="75.66" y="175.10" font-size="9.2" font-weight="bold" text-anchor="middle" fill="#111" stroke="#111" stroke-width="0.5" textLength="12.05" lengthAdjust="spacingAndGlyphs">ICT</text><text x="75.66" y="188.40" font-size="9.2" font-weight="bold" text-anchor="middle" fill="#111" stroke="#111" stroke-width="0.5" textLength="13.93" lengthAdjust="spacingAndGlyphs">Lo -</text><text x="75.66" y="201.70" font-size="9.2" font-weight="bold" text-anchor="middle" fill="#111" stroke="#111" stroke-width="0.5" textLength="18.92" lengthAdjust="spacingAndGlyphs">2015</text><text x="109.98" y="175.10" font-size="9.2" font-weight="bold" text-anchor="middle" fill="#111" stroke="#111" stroke-width="0.5" textLength="12.05" lengthAdjust="spacingAndGlyphs">ICT</text><text x="109.98" y="188.40" font-size="9.2" font-weight="bold" text-anchor="middle" fill="#111" stroke="#111" stroke-width="0.5" textLength="13.93" lengthAdjust="spacingAndGlyphs">Lo -</text><text x="109.98" y="201.70" font-size="9.2" font-weight="bold" text-anchor="middle" fill="#111" stroke="#111" stroke-width="0.5" textLength="18.92" lengthAdjust="spacingAndGlyphs">2020</text><text x="144.30" y="175.10" font-size="9.2" font-weight="bold" text-anchor="middle" fill="#111" stroke="#111" stroke-width="0.5" textLength="12.05" lengthAdjust="spacingAndGlyphs">ICT</text><text x="144.30" y="188.40" font-size="9.2" font-weight="bold" text-anchor="middle" fill="#111" stroke="#111" stroke-width="0.5" textLength="13.93" lengthAdjust="spacingAndGlyphs">Lo -</text><text x="144.30" y="201.70" font-size="9.2" font-weight="bold" text-anchor="middle" fill="#111" stroke="#111" stroke-width="0.5" textLength="18.92" lengthAdjust="spacingAndGlyphs">2025</text><text x="178.62" y="175.10" font-size="9.2" font-weight="bold" text-anchor="middle" fill="#111" stroke="#111" stroke-width="0.5" textLength="12.05" lengthAdjust="spacingAndGlyphs">ICT</text><text x="178.62" y="188.40" font-size="9.2" font-weight="bold" text-anchor="middle" fill="#111" stroke="#111" stroke-width="0.5" textLength="13.93" lengthAdjust="spacingAndGlyphs">Lo -</text><text x="178.62" y="201.70" font-size="9.2" font-weight="bold" text-anchor="middle" fill="#111" stroke="#111" stroke-width="0.5" textLength="18.92" lengthAdjust="spacingAndGlyphs">2030</text><text x="212.94" y="175.10" font-size="9.2" font-weight="bold" text-anchor="middle" fill="#111" stroke="#111" stroke-width="0.5" textLength="12.05" lengthAdjust="spacingAndGlyphs">ICT</text><text x="212.94" y="188.40" font-size="9.2" font-weight="bold" text-anchor="middle" fill="#111" stroke="#111" stroke-width="0.5" textLength="13.93" lengthAdjust="spacingAndGlyphs">Lo -</text><text x="212.94" y="201.70" font-size="9.2" font-weight="bold" text-anchor="middle" fill="#111" stroke="#111" stroke-width="0.5" textLength="18.92" lengthAdjust="spacingAndGlyphs">2050</text><text x="247.26" y="175.10" font-size="9.2" font-weight="bold" text-anchor="middle" fill="#111" stroke="#111" stroke-width="0.5" textLength="12.05" lengthAdjust="spacingAndGlyphs">ICT</text><text x="247.26" y="188.40" font-size="9.2" font-weight="bold" text-anchor="middle" fill="#111" stroke="#111" stroke-width="0.5" textLength="19.60" lengthAdjust="spacingAndGlyphs">Cen -</text><text x="247.26" y="201.70" font-size="9.2" font-weight="bold" text-anchor="middle" fill="#111" stroke="#111" stroke-width="0.5" textLength="18.92" lengthAdjust="spacingAndGlyphs">2015</text><text x="281.58" y="175.10" font-size="9.2" font-weight="bold" text-anchor="middle" fill="#111" stroke="#111" stroke-width="0.5" textLength="12.05" lengthAdjust="spacingAndGlyphs">ICT</text><text x="281.58" y="188.40" font-size="9.2" font-weight="bold" text-anchor="middle" fill="#111" stroke="#111" stroke-width="0.5" textLength="19.60" lengthAdjust="spacingAndGlyphs">Cen -</text><text x="281.58" y="201.70" font-size="9.2" font-weight="bold" text-anchor="middle" fill="#111" stroke="#111" stroke-width="0.5" textLength="18.92" lengthAdjust="spacingAndGlyphs">2020</text><text x="315.90" y="175.10" font-size="9.2" font-weight="bold" text-anchor="middle" fill="#111" stroke="#111" stroke-width="0.5" textLength="12.05" lengthAdjust="spacingAndGlyphs">ICT</text><text x="315.90" y="188.40" font-size="9.2" font-weight="bold" text-anchor="middle" fill="#111" stroke="#111" stroke-width="0.5" textLength="19.60" lengthAdjust="spacingAndGlyphs">Cen -</text><text x="315.90" y="201.70" font-size="9.2" font-weight="bold" text-anchor="middle" fill="#111" stroke="#111" stroke-width="0.5" textLength="18.92" lengthAdjust="spacingAndGlyphs">2025</text><text x="350.22" y="175.10" font-size="9.2" font-weight="bold" text-anchor="middle" fill="#111" stroke="#111" stroke-width="0.5" textLength="12.05" lengthAdjust="spacingAndGlyphs">ICT</text><text x="350.22" y="188.40" font-size="9.2" font-weight="bold" text-anchor="middle" fill="#111" stroke="#111" stroke-width="0.5" textLength="19.60" lengthAdjust="spacingAndGlyphs">Cen -</text><text x="350.22" y="201.70" font-size="9.2" font-weight="bold" text-anchor="middle" fill="#111" stroke="#111" stroke-width="0.5" textLength="18.92" lengthAdjust="spacingAndGlyphs">2030</text><text x="384.54" y="175.10" font-size="9.2" font-weight="bold" text-anchor="middle" fill="#111" stroke="#111" stroke-width="0.5" textLength="12.05" lengthAdjust="spacingAndGlyphs">ICT</text><text x="384.54" y="188.40" font-size="9.2" font-weight="bold" text-anchor="middle" fill="#111" stroke="#111" stroke-width="0.5" textLength="19.60" lengthAdjust="spacingAndGlyphs">Cen -</text><text x="384.54" y="201.70" font-size="9.2" font-weight="bold" text-anchor="middle" fill="#111" stroke="#111" stroke-width="0.5" textLength="18.92" lengthAdjust="spacingAndGlyphs">2050</text><text x="418.86" y="175.10" font-size="9.2" font-weight="bold" text-anchor="middle" fill="#111" stroke="#111" stroke-width="0.5" textLength="12.05" lengthAdjust="spacingAndGlyphs">ICT</text><text x="418.86" y="188.40" font-size="9.2" font-weight="bold" text-anchor="middle" fill="#111" stroke="#111" stroke-width="0.5" textLength="13.14" lengthAdjust="spacingAndGlyphs">Hi -</text><text x="418.86" y="201.70" font-size="9.2" font-weight="bold" text-anchor="middle" fill="#111" stroke="#111" stroke-width="0.5" textLength="18.92" lengthAdjust="spacingAndGlyphs">2015</text><text x="453.18" y="175.10" font-size="9.2" font-weight="bold" text-anchor="middle" fill="#111" stroke="#111" stroke-width="0.5" textLength="12.05" lengthAdjust="spacingAndGlyphs">ICT</text><text x="453.18" y="188.40" font-size="9.2" font-weight="bold" text-anchor="middle" fill="#111" stroke="#111" stroke-width="0.5" textLength="13.14" lengthAdjust="spacingAndGlyphs">Hi -</text><text x="453.18" y="201.70" font-size="9.2" font-weight="bold" text-anchor="middle" fill="#111" stroke="#111" stroke-width="0.5" textLength="18.92" lengthAdjust="spacingAndGlyphs">2020</text><text x="487.50" y="175.10" font-size="9.2" font-weight="bold" text-anchor="middle" fill="#111" stroke="#111" stroke-width="0.5" textLength="12.05" lengthAdjust="spacingAndGlyphs">ICT</text><text x="487.50" y="188.40" font-size="9.2" font-weight="bold" text-anchor="middle" fill="#111" stroke="#111" stroke-width="0.5" textLength="13.14" lengthAdjust="spacingAndGlyphs">Hi -</text><text x="487.50" y="201.70" font-size="9.2" font-weight="bold" text-anchor="middle" fill="#111" stroke="#111" stroke-width="0.5" textLength="18.92" lengthAdjust="spacingAndGlyphs">2025</text><text x="521.82" y="175.10" font-size="9.2" font-weight="bold" text-anchor="middle" fill="#111" stroke="#111" stroke-width="0.5" textLength="12.05" lengthAdjust="spacingAndGlyphs">ICT</text><text x="521.82" y="188.40" font-size="9.2" font-weight="bold" text-anchor="middle" fill="#111" stroke="#111" stroke-width="0.5" textLength="13.14" lengthAdjust="spacingAndGlyphs">Hi -</text><text x="521.82" y="201.70" font-size="9.2" font-weight="bold" text-anchor="middle" fill="#111" stroke="#111" stroke-width="0.5" textLength="18.92" lengthAdjust="spacingAndGlyphs">2030</text><text x="556.14" y="175.10" font-size="9.2" font-weight="bold" text-anchor="middle" fill="#111" stroke="#111" stroke-width="0.5" textLength="12.05" lengthAdjust="spacingAndGlyphs">ICT</text><text x="556.14" y="188.40" font-size="9.2" font-weight="bold" text-anchor="middle" fill="#111" stroke="#111" stroke-width="0.5" textLength="13.14" lengthAdjust="spacingAndGlyphs">Hi -</text><text x="556.14" y="201.70" font-size="9.2" font-weight="bold" text-anchor="middle" fill="#111" stroke="#111" stroke-width="0.5" textLength="18.92" lengthAdjust="spacingAndGlyphs">2050</text><text x="8.60" y="175.10" font-size="9.2" font-weight="bold" fill="#111" stroke="#111" stroke-width="0.5" textLength="22.47" lengthAdjust="spacingAndGlyphs">Mean</text><text x="8.60" y="188.40" font-size="9.2" font-weight="bold" fill="#111" stroke="#111" stroke-width="0.5" textLength="23.13" lengthAdjust="spacingAndGlyphs">speed</text><text x="8.60" y="201.70" font-size="9.2" font-weight="bold" fill="#111" stroke="#111" stroke-width="0.5" textLength="32.96" lengthAdjust="spacingAndGlyphs">brackets</text><text x="8.40" y="231.75" font-size="9.2" fill="#111" stroke="#111" stroke-width="0.22" textLength="28.47" lengthAdjust="spacingAndGlyphs">0-5 kph</text><text x="75.66" y="231.75" font-size="9.2" text-anchor="middle" fill="#111" stroke="#111" stroke-width="0.22" textLength="11.81" lengthAdjust="spacingAndGlyphs">0.9</text><text x="109.98" y="231.75" font-size="9.2" text-anchor="middle" fill="#111" stroke="#111" stroke-width="0.22" textLength="11.81" lengthAdjust="spacingAndGlyphs">0.9</text><text x="144.30" y="231.75" font-size="9.2" text-anchor="middle" fill="#111" stroke="#111" stroke-width="0.22" textLength="11.81" lengthAdjust="spacingAndGlyphs">0.9</text><text x="178.62" y="231.75" font-size="9.2" text-anchor="middle" fill="#111" stroke="#111" stroke-width="0.22" textLength="11.81" lengthAdjust="spacingAndGlyphs">1.0</text><text x="212.94" y="231.75" font-size="9.2" text-anchor="middle" fill="#111" stroke="#111" stroke-width="0.22" textLength="11.81" lengthAdjust="spacingAndGlyphs">1.1</text><text x="247.26" y="231.75" font-size="9.2" text-anchor="middle" fill="#111" stroke="#111" stroke-width="0.22" textLength="11.81" lengthAdjust="spacingAndGlyphs">0.9</text><text x="281.58" y="231.75" font-size="9.2" text-anchor="middle" fill="#111" stroke="#111" stroke-width="0.22" textLength="11.81" lengthAdjust="spacingAndGlyphs">0.9</text><text x="315.90" y="231.75" font-size="9.2" text-anchor="middle" fill="#111" stroke="#111" stroke-width="0.22" textLength="11.81" lengthAdjust="spacingAndGlyphs">0.8</text><text x="350.22" y="231.75" font-size="9.2" text-anchor="middle" fill="#111" stroke="#111" stroke-width="0.22" textLength="11.81" lengthAdjust="spacingAndGlyphs">0.8</text><text x="384.54" y="231.75" font-size="9.2" text-anchor="middle" fill="#111" stroke="#111" stroke-width="0.22" textLength="11.81" lengthAdjust="spacingAndGlyphs">0.9</text><text x="418.86" y="231.75" font-size="9.2" text-anchor="middle" fill="#111" stroke="#111" stroke-width="0.22" textLength="11.81" lengthAdjust="spacingAndGlyphs">0.9</text><text x="453.18" y="231.75" font-size="9.2" text-anchor="middle" fill="#111" stroke="#111" stroke-width="0.22" textLength="11.81" lengthAdjust="spacingAndGlyphs">0.9</text><text x="487.50" y="231.75" font-size="9.2" text-anchor="middle" fill="#111" stroke="#111" stroke-width="0.22" textLength="11.81" lengthAdjust="spacingAndGlyphs">0.7</text><text x="521.82" y="231.75" font-size="9.2" text-anchor="middle" fill="#111" stroke="#111" stroke-width="0.22" textLength="11.81" lengthAdjust="spacingAndGlyphs">0.7</text><text x="556.14" y="231.75" font-size="9.2" text-anchor="middle" fill="#111" stroke="#111" stroke-width="0.22" textLength="11.81" lengthAdjust="spacingAndGlyphs">0.7</text><text x="8.40" y="254.70" font-size="9.2" fill="#111" stroke="#111" stroke-width="0.22" textLength="33.20" lengthAdjust="spacingAndGlyphs">5-15 kph</text><text x="75.66" y="254.70" font-size="9.2" text-anchor="middle" fill="#111" stroke="#111" stroke-width="0.22" textLength="11.81" lengthAdjust="spacingAndGlyphs">3.8</text><text x="109.98" y="254.70" font-size="9.2" text-anchor="middle" fill="#111" stroke="#111" stroke-width="0.22" textLength="11.81" lengthAdjust="spacingAndGlyphs">4.0</text><text x="144.30" y="254.70" font-size="9.2" text-anchor="middle" fill="#111" stroke="#111" stroke-width="0.22" textLength="11.81" lengthAdjust="spacingAndGlyphs">4.0</text><text x="178.62" y="254.70" font-size="9.2" text-anchor="middle" fill="#111" stroke="#111" stroke-width="0.22" textLength="11.81" lengthAdjust="spacingAndGlyphs">4.2</text><text x="212.94" y="254.70" font-size="9.2" text-anchor="middle" fill="#111" stroke="#111" stroke-width="0.22" textLength="11.81" lengthAdjust="spacingAndGlyphs">5.3</text><text x="247.26" y="254.70" font-size="9.2" text-anchor="middle" fill="#111" stroke="#111" stroke-width="0.22" textLength="11.81" lengthAdjust="spacingAndGlyphs">3.8</text><text x="281.58" y="254.70" font-size="9.2" text-anchor="middle" fill="#111" stroke="#111" stroke-width="0.22" textLength="11.81" lengthAdjust="spacingAndGlyphs">3.7</text><text x="315.90" y="254.70" font-size="9.2" text-anchor="middle" fill="#111" stroke="#111" stroke-width="0.22" textLength="11.81" lengthAdjust="spacingAndGlyphs">2.8</text><text x="350.22" y="254.70" font-size="9.2" text-anchor="middle" fill="#111" stroke="#111" stroke-width="0.22" textLength="11.81" lengthAdjust="spacingAndGlyphs">2.8</text><text x="384.54" y="254.70" font-size="9.2" text-anchor="middle" fill="#111" stroke="#111" stroke-width="0.22" textLength="11.81" lengthAdjust="spacingAndGlyphs">3.3</text><text x="418.86" y="254.70" font-size="9.2" text-anchor="middle" fill="#111" stroke="#111" stroke-width="0.22" textLength="11.81" lengthAdjust="spacingAndGlyphs">3.8</text><text x="453.18" y="254.70" font-size="9.2" text-anchor="middle" fill="#111" stroke="#111" stroke-width="0.22" textLength="11.81" lengthAdjust="spacingAndGlyphs">3.1</text><text x="487.50" y="254.70" font-size="9.2" text-anchor="middle" fill="#111" stroke="#111" stroke-width="0.22" textLength="11.81" lengthAdjust="spacingAndGlyphs">1.4</text><text x="521.82" y="254.70" font-size="9.2" text-anchor="middle" fill="#111" stroke="#111" stroke-width="0.22" textLength="11.81" lengthAdjust="spacingAndGlyphs">1.4</text><text x="556.14" y="254.70" font-size="9.2" text-anchor="middle" fill="#111" stroke="#111" stroke-width="0.22" textLength="11.81" lengthAdjust="spacingAndGlyphs">1.4</text><text x="8.40" y="277.75" font-size="9.2" fill="#111" stroke="#111" stroke-width="0.22" textLength="37.93" lengthAdjust="spacingAndGlyphs">15-25 kph</text><text x="75.66" y="277.75" font-size="9.2" text-anchor="middle" fill="#111" stroke="#111" stroke-width="0.22" textLength="11.81" lengthAdjust="spacingAndGlyphs">9.5</text><text x="109.98" y="277.75" font-size="9.2" text-anchor="middle" fill="#111" stroke="#111" stroke-width="0.22" textLength="16.54" lengthAdjust="spacingAndGlyphs">10.2</text><text x="144.30" y="277.75" font-size="9.2" text-anchor="middle" fill="#111" stroke="#111" stroke-width="0.22" textLength="16.54" lengthAdjust="spacingAndGlyphs">10.2</text><text x="178.62" y="277.75" font-size="9.2" text-anchor="middle" fill="#111" stroke="#111" stroke-width="0.22" textLength="16.54" lengthAdjust="spacingAndGlyphs">10.7</text><text x="212.94" y="277.75" font-size="9.2" text-anchor="middle" fill="#111" stroke="#111" stroke-width="0.22" textLength="16.54" lengthAdjust="spacingAndGlyphs">14.3</text><text x="247.26" y="277.75" font-size="9.2" text-anchor="middle" fill="#111" stroke="#111" stroke-width="0.22" textLength="11.81" lengthAdjust="spacingAndGlyphs">9.5</text><text x="281.58" y="277.75" font-size="9.2" text-anchor="middle" fill="#111" stroke="#111" stroke-width="0.22" textLength="11.81" lengthAdjust="spacingAndGlyphs">9.1</text><text x="315.90" y="277.75" font-size="9.2" text-anchor="middle" fill="#111" stroke="#111" stroke-width="0.22" textLength="11.81" lengthAdjust="spacingAndGlyphs">6.2</text><text x="350.22" y="277.75" font-size="9.2" text-anchor="middle" fill="#111" stroke="#111" stroke-width="0.22" textLength="11.81" lengthAdjust="spacingAndGlyphs">6.0</text><text x="384.54" y="277.75" font-size="9.2" text-anchor="middle" fill="#111" stroke="#111" stroke-width="0.22" textLength="11.81" lengthAdjust="spacingAndGlyphs">7.8</text><text x="418.86" y="277.75" font-size="9.2" text-anchor="middle" fill="#111" stroke="#111" stroke-width="0.22" textLength="11.81" lengthAdjust="spacingAndGlyphs">9.5</text><text x="453.18" y="277.75" font-size="9.2" text-anchor="middle" fill="#111" stroke="#111" stroke-width="0.22" textLength="11.81" lengthAdjust="spacingAndGlyphs">7.0</text><text x="487.50" y="277.75" font-size="9.2" text-anchor="middle" fill="#111" stroke="#111" stroke-width="0.22" textLength="11.81" lengthAdjust="spacingAndGlyphs">1.6</text><text x="521.82" y="277.75" font-size="9.2" text-anchor="middle" fill="#111" stroke="#111" stroke-width="0.22" textLength="11.81" lengthAdjust="spacingAndGlyphs">1.4</text><text x="556.14" y="277.75" font-size="9.2" text-anchor="middle" fill="#111" stroke="#111" stroke-width="0.22" textLength="11.81" lengthAdjust="spacingAndGlyphs">1.4</text><text x="8.40" y="300.65" font-size="9.2" fill="#111" stroke="#111" stroke-width="0.22" textLength="37.93" lengthAdjust="spacingAndGlyphs">25-35 kph</text><text x="75.66" y="300.65" font-size="9.2" text-anchor="middle" fill="#111" stroke="#111" stroke-width="0.22" textLength="16.54" lengthAdjust="spacingAndGlyphs">16.7</text><text x="109.98" y="300.65" font-size="9.2" text-anchor="middle" fill="#111" stroke="#111" stroke-width="0.22" textLength="16.54" lengthAdjust="spacingAndGlyphs">17.4</text><text x="144.30" y="300.65" font-size="9.2" text-anchor="middle" fill="#111" stroke="#111" stroke-width="0.22" textLength="16.54" lengthAdjust="spacingAndGlyphs">17.4</text><text x="178.62" y="300.65" font-size="9.2" text-anchor="middle" fill="#111" stroke="#111" stroke-width="0.22" textLength="16.54" lengthAdjust="spacingAndGlyphs">17.9</text><text x="212.94" y="300.65" font-size="9.2" text-anchor="middle" fill="#111" stroke="#111" stroke-width="0.22" textLength="16.54" lengthAdjust="spacingAndGlyphs">21.5</text><text x="247.26" y="300.65" font-size="9.2" text-anchor="middle" fill="#111" stroke="#111" stroke-width="0.22" textLength="16.54" lengthAdjust="spacingAndGlyphs">16.7</text><text x="281.58" y="300.65" font-size="9.2" text-anchor="middle" fill="#111" stroke="#111" stroke-width="0.22" textLength="16.54" lengthAdjust="spacingAndGlyphs">16.3</text><text x="315.90" y="300.65" font-size="9.2" text-anchor="middle" fill="#111" stroke="#111" stroke-width="0.22" textLength="16.54" lengthAdjust="spacingAndGlyphs">13.4</text><text x="350.22" y="300.65" font-size="9.2" text-anchor="middle" fill="#111" stroke="#111" stroke-width="0.22" textLength="16.54" lengthAdjust="spacingAndGlyphs">13.3</text><text x="384.54" y="300.65" font-size="9.2" text-anchor="middle" fill="#111" stroke="#111" stroke-width="0.22" textLength="16.54" lengthAdjust="spacingAndGlyphs">15.1</text><text x="418.86" y="300.65" font-size="9.2" text-anchor="middle" fill="#111" stroke="#111" stroke-width="0.22" textLength="16.54" lengthAdjust="spacingAndGlyphs">16.7</text><text x="453.18" y="300.65" font-size="9.2" text-anchor="middle" fill="#111" stroke="#111" stroke-width="0.22" textLength="16.54" lengthAdjust="spacingAndGlyphs">14.2</text><text x="487.50" y="300.65" font-size="9.2" text-anchor="middle" fill="#111" stroke="#111" stroke-width="0.22" textLength="11.81" lengthAdjust="spacingAndGlyphs">8.8</text><text x="521.82" y="300.65" font-size="9.2" text-anchor="middle" fill="#111" stroke="#111" stroke-width="0.22" textLength="11.81" lengthAdjust="spacingAndGlyphs">8.7</text><text x="556.14" y="300.65" font-size="9.2" text-anchor="middle" fill="#111" stroke="#111" stroke-width="0.22" textLength="11.81" lengthAdjust="spacingAndGlyphs">8.7</text><text x="8.40" y="321.60" font-size="9.2" fill="#111" stroke="#111" stroke-width="0.22" textLength="37.93" lengthAdjust="spacingAndGlyphs">35-45 kph</text><text x="75.66" y="321.60" font-size="9.2" text-anchor="middle" fill="#111" stroke="#111" stroke-width="0.22" textLength="16.54" lengthAdjust="spacingAndGlyphs">24.2</text><text x="109.98" y="321.60" font-size="9.2" text-anchor="middle" fill="#111" stroke="#111" stroke-width="0.22" textLength="16.54" lengthAdjust="spacingAndGlyphs">24.1</text><text x="144.30" y="321.60" font-size="9.2" text-anchor="middle" fill="#111" stroke="#111" stroke-width="0.22" textLength="16.54" lengthAdjust="spacingAndGlyphs">24.1</text><text x="178.62" y="321.60" font-size="9.2" text-anchor="middle" fill="#111" stroke="#111" stroke-width="0.22" textLength="16.54" lengthAdjust="spacingAndGlyphs">24.0</text><text x="212.94" y="321.60" font-size="9.2" text-anchor="middle" fill="#111" stroke="#111" stroke-width="0.22" textLength="16.54" lengthAdjust="spacingAndGlyphs">23.4</text><text x="247.26" y="321.60" font-size="9.2" text-anchor="middle" fill="#111" stroke="#111" stroke-width="0.22" textLength="16.54" lengthAdjust="spacingAndGlyphs">24.2</text><text x="281.58" y="321.60" font-size="9.2" text-anchor="middle" fill="#111" stroke="#111" stroke-width="0.22" textLength="16.54" lengthAdjust="spacingAndGlyphs">24.3</text><text x="315.90" y="321.60" font-size="9.2" text-anchor="middle" fill="#111" stroke="#111" stroke-width="0.22" textLength="16.54" lengthAdjust="spacingAndGlyphs">24.8</text><text x="350.22" y="321.60" font-size="9.2" text-anchor="middle" fill="#111" stroke="#111" stroke-width="0.22" textLength="16.54" lengthAdjust="spacingAndGlyphs">24.8</text><text x="384.54" y="321.60" font-size="9.2" text-anchor="middle" fill="#111" stroke="#111" stroke-width="0.22" textLength="16.54" lengthAdjust="spacingAndGlyphs">24.5</text><text x="418.86" y="321.60" font-size="9.2" text-anchor="middle" fill="#111" stroke="#111" stroke-width="0.22" textLength="16.54" lengthAdjust="spacingAndGlyphs">24.2</text><text x="453.18" y="321.60" font-size="9.2" text-anchor="middle" fill="#111" stroke="#111" stroke-width="0.22" textLength="16.54" lengthAdjust="spacingAndGlyphs">24.7</text><text x="487.50" y="321.60" font-size="9.2" text-anchor="middle" fill="#111" stroke="#111" stroke-width="0.22" textLength="16.54" lengthAdjust="spacingAndGlyphs">25.6</text><text x="521.82" y="321.60" font-size="9.2" text-anchor="middle" fill="#111" stroke="#111" stroke-width="0.22" textLength="16.54" lengthAdjust="spacingAndGlyphs">25.6</text><text x="556.14" y="321.60" font-size="9.2" text-anchor="middle" fill="#111" stroke="#111" stroke-width="0.22" textLength="16.54" lengthAdjust="spacingAndGlyphs">25.6</text><text x="8.40" y="340.75" font-size="9.2" fill="#111" stroke="#111" stroke-width="0.22" textLength="37.93" lengthAdjust="spacingAndGlyphs">45-55 kph</text><text x="75.66" y="340.75" font-size="9.2" text-anchor="middle" fill="#111" stroke="#111" stroke-width="0.22" textLength="16.54" lengthAdjust="spacingAndGlyphs">23.9</text><text x="109.98" y="340.75" font-size="9.2" text-anchor="middle" fill="#111" stroke="#111" stroke-width="0.22" textLength="16.54" lengthAdjust="spacingAndGlyphs">23.0</text><text x="144.30" y="340.75" font-size="9.2" text-anchor="middle" fill="#111" stroke="#111" stroke-width="0.22" textLength="16.54" lengthAdjust="spacingAndGlyphs">23.1</text><text x="178.62" y="340.75" font-size="9.2" text-anchor="middle" fill="#111" stroke="#111" stroke-width="0.22" textLength="16.54" lengthAdjust="spacingAndGlyphs">22.5</text><text x="212.94" y="340.75" font-size="9.2" text-anchor="middle" fill="#111" stroke="#111" stroke-width="0.22" textLength="16.54" lengthAdjust="spacingAndGlyphs">18.5</text><text x="247.26" y="340.75" font-size="9.2" text-anchor="middle" fill="#111" stroke="#111" stroke-width="0.22" textLength="16.54" lengthAdjust="spacingAndGlyphs">23.9</text><text x="281.58" y="340.75" font-size="9.2" text-anchor="middle" fill="#111" stroke="#111" stroke-width="0.22" textLength="16.54" lengthAdjust="spacingAndGlyphs">24.3</text><text x="315.90" y="340.75" font-size="9.2" text-anchor="middle" fill="#111" stroke="#111" stroke-width="0.22" textLength="16.54" lengthAdjust="spacingAndGlyphs">27.5</text><text x="350.22" y="340.75" font-size="9.2" text-anchor="middle" fill="#111" stroke="#111" stroke-width="0.22" textLength="16.54" lengthAdjust="spacingAndGlyphs">27.6</text><text x="384.54" y="340.75" font-size="9.2" text-anchor="middle" fill="#111" stroke="#111" stroke-width="0.22" textLength="16.54" lengthAdjust="spacingAndGlyphs">25.6</text><text x="418.86" y="340.75" font-size="9.2" text-anchor="middle" fill="#111" stroke="#111" stroke-width="0.22" textLength="16.54" lengthAdjust="spacingAndGlyphs">23.9</text><text x="453.18" y="340.75" font-size="9.2" text-anchor="middle" fill="#111" stroke="#111" stroke-width="0.22" textLength="16.54" lengthAdjust="spacingAndGlyphs">26.5</text><text x="487.50" y="340.75" font-size="9.2" text-anchor="middle" fill="#111" stroke="#111" stroke-width="0.22" textLength="16.54" lengthAdjust="spacingAndGlyphs">32.5</text><text x="521.82" y="340.75" font-size="9.2" text-anchor="middle" fill="#111" stroke="#111" stroke-width="0.22" textLength="16.54" lengthAdjust="spacingAndGlyphs">32.7</text><text x="556.14" y="340.75" font-size="9.2" text-anchor="middle" fill="#111" stroke="#111" stroke-width="0.22" textLength="16.54" lengthAdjust="spacingAndGlyphs">32.7</text><text x="8.40" y="359.95" font-size="9.2" fill="#111" stroke="#111" stroke-width="0.22" textLength="37.93" lengthAdjust="spacingAndGlyphs">55-65 kph</text><text x="75.66" y="359.95" font-size="9.2" text-anchor="middle" fill="#111" stroke="#111" stroke-width="0.22" textLength="16.54" lengthAdjust="spacingAndGlyphs">15.0</text><text x="109.98" y="359.95" font-size="9.2" text-anchor="middle" fill="#111" stroke="#111" stroke-width="0.22" textLength="16.54" lengthAdjust="spacingAndGlyphs">14.4</text><text x="144.30" y="359.95" font-size="9.2" text-anchor="middle" fill="#111" stroke="#111" stroke-width="0.22" textLength="16.54" lengthAdjust="spacingAndGlyphs">14.4</text><text x="178.62" y="359.95" font-size="9.2" text-anchor="middle" fill="#111" stroke="#111" stroke-width="0.22" textLength="16.54" lengthAdjust="spacingAndGlyphs">14.0</text><text x="212.94" y="359.95" font-size="9.2" text-anchor="middle" fill="#111" stroke="#111" stroke-width="0.22" textLength="16.54" lengthAdjust="spacingAndGlyphs">11.0</text><text x="247.26" y="359.95" font-size="9.2" text-anchor="middle" fill="#111" stroke="#111" stroke-width="0.22" textLength="16.54" lengthAdjust="spacingAndGlyphs">15.0</text><text x="281.58" y="359.95" font-size="9.2" text-anchor="middle" fill="#111" stroke="#111" stroke-width="0.22" textLength="16.54" lengthAdjust="spacingAndGlyphs">15.3</text><text x="315.90" y="359.95" font-size="9.2" text-anchor="middle" fill="#111" stroke="#111" stroke-width="0.22" textLength="16.54" lengthAdjust="spacingAndGlyphs">17.6</text><text x="350.22" y="359.95" font-size="9.2" text-anchor="middle" fill="#111" stroke="#111" stroke-width="0.22" textLength="16.54" lengthAdjust="spacingAndGlyphs">17.7</text><text x="384.54" y="359.95" font-size="9.2" text-anchor="middle" fill="#111" stroke="#111" stroke-width="0.22" textLength="16.54" lengthAdjust="spacingAndGlyphs">16.3</text><text x="418.86" y="359.95" font-size="9.2" text-anchor="middle" fill="#111" stroke="#111" stroke-width="0.22" textLength="16.54" lengthAdjust="spacingAndGlyphs">15.0</text><text x="453.18" y="359.95" font-size="9.2" text-anchor="middle" fill="#111" stroke="#111" stroke-width="0.22" textLength="16.54" lengthAdjust="spacingAndGlyphs">16.9</text><text x="487.50" y="359.95" font-size="9.2" text-anchor="middle" fill="#111" stroke="#111" stroke-width="0.22" textLength="16.54" lengthAdjust="spacingAndGlyphs">21.3</text><text x="521.82" y="359.95" font-size="9.2" text-anchor="middle" fill="#111" stroke="#111" stroke-width="0.22" textLength="16.54" lengthAdjust="spacingAndGlyphs">21.5</text><text x="556.14" y="359.95" font-size="9.2" text-anchor="middle" fill="#111" stroke="#111" stroke-width="0.22" textLength="16.54" lengthAdjust="spacingAndGlyphs">21.5</text><text x="8.40" y="379.30" font-size="9.2" fill="#111" stroke="#111" stroke-width="0.22" textLength="37.93" lengthAdjust="spacingAndGlyphs">65-75 kph</text><text x="75.66" y="379.30" font-size="9.2" text-anchor="middle" fill="#111" stroke="#111" stroke-width="0.22" textLength="11.81" lengthAdjust="spacingAndGlyphs">4.3</text><text x="109.98" y="379.30" font-size="9.2" text-anchor="middle" fill="#111" stroke="#111" stroke-width="0.22" textLength="11.81" lengthAdjust="spacingAndGlyphs">4.2</text><text x="144.30" y="379.30" font-size="9.2" text-anchor="middle" fill="#111" stroke="#111" stroke-width="0.22" textLength="11.81" lengthAdjust="spacingAndGlyphs">4.2</text><text x="178.62" y="379.30" font-size="9.2" text-anchor="middle" fill="#111" stroke="#111" stroke-width="0.22" textLength="11.81" lengthAdjust="spacingAndGlyphs">4.1</text><text x="212.94" y="379.30" font-size="9.2" text-anchor="middle" fill="#111" stroke="#111" stroke-width="0.22" textLength="11.81" lengthAdjust="spacingAndGlyphs">3.3</text><text x="247.26" y="379.30" font-size="9.2" text-anchor="middle" fill="#111" stroke="#111" stroke-width="0.22" textLength="11.81" lengthAdjust="spacingAndGlyphs">4.3</text><text x="281.58" y="379.30" font-size="9.2" text-anchor="middle" fill="#111" stroke="#111" stroke-width="0.22" textLength="11.81" lengthAdjust="spacingAndGlyphs">4.4</text><text x="315.90" y="379.30" font-size="9.2" text-anchor="middle" fill="#111" stroke="#111" stroke-width="0.22" textLength="11.81" lengthAdjust="spacingAndGlyphs">5.1</text><text x="350.22" y="379.30" font-size="9.2" text-anchor="middle" fill="#111" stroke="#111" stroke-width="0.22" textLength="11.81" lengthAdjust="spacingAndGlyphs">5.1</text><text x="384.54" y="379.30" font-size="9.2" text-anchor="middle" fill="#111" stroke="#111" stroke-width="0.22" textLength="11.81" lengthAdjust="spacingAndGlyphs">4.7</text><text x="418.86" y="379.30" font-size="9.2" text-anchor="middle" fill="#111" stroke="#111" stroke-width="0.22" textLength="11.81" lengthAdjust="spacingAndGlyphs">4.3</text><text x="453.18" y="379.30" font-size="9.2" text-anchor="middle" fill="#111" stroke="#111" stroke-width="0.22" textLength="11.81" lengthAdjust="spacingAndGlyphs">4.9</text><text x="487.50" y="379.30" font-size="9.2" text-anchor="middle" fill="#111" stroke="#111" stroke-width="0.22" textLength="11.81" lengthAdjust="spacingAndGlyphs">6.1</text><text x="521.82" y="379.30" font-size="9.2" text-anchor="middle" fill="#111" stroke="#111" stroke-width="0.22" textLength="11.81" lengthAdjust="spacingAndGlyphs">6.2</text><text x="556.14" y="379.30" font-size="9.2" text-anchor="middle" fill="#111" stroke="#111" stroke-width="0.22" textLength="11.81" lengthAdjust="spacingAndGlyphs">6.2</text><text x="8.40" y="398.80" font-size="9.2" fill="#111" stroke="#111" stroke-width="0.22" textLength="43.30" lengthAdjust="spacingAndGlyphs">75 kph plus</text><text x="75.66" y="398.80" font-size="9.2" text-anchor="middle" fill="#111" stroke="#111" stroke-width="0.22" textLength="11.81" lengthAdjust="spacingAndGlyphs">1.7</text><text x="109.98" y="398.80" font-size="9.2" text-anchor="middle" fill="#111" stroke="#111" stroke-width="0.22" textLength="11.81" lengthAdjust="spacingAndGlyphs">1.7</text><text x="144.30" y="398.80" font-size="9.2" text-anchor="middle" fill="#111" stroke="#111" stroke-width="0.22" textLength="11.81" lengthAdjust="spacingAndGlyphs">1.7</text><text x="178.62" y="398.80" font-size="9.2" text-anchor="middle" fill="#111" stroke="#111" stroke-width="0.22" textLength="11.81" lengthAdjust="spacingAndGlyphs">1.7</text><text x="212.94" y="398.80" font-size="9.2" text-anchor="middle" fill="#111" stroke="#111" stroke-width="0.22" textLength="11.81" lengthAdjust="spacingAndGlyphs">1.6</text><text x="247.26" y="398.80" font-size="9.2" text-anchor="middle" fill="#111" stroke="#111" stroke-width="0.22" textLength="11.81" lengthAdjust="spacingAndGlyphs">1.7</text><text x="281.58" y="398.80" font-size="9.2" text-anchor="middle" fill="#111" stroke="#111" stroke-width="0.22" textLength="11.81" lengthAdjust="spacingAndGlyphs">1.7</text><text x="315.90" y="398.80" font-size="9.2" text-anchor="middle" fill="#111" stroke="#111" stroke-width="0.22" textLength="11.81" lengthAdjust="spacingAndGlyphs">1.8</text><text x="350.22" y="398.80" font-size="9.2" text-anchor="middle" fill="#111" stroke="#111" stroke-width="0.22" textLength="11.81" lengthAdjust="spacingAndGlyphs">1.8</text><text x="384.54" y="398.80" font-size="9.2" text-anchor="middle" fill="#111" stroke="#111" stroke-width="0.22" textLength="11.81" lengthAdjust="spacingAndGlyphs">1.8</text><text x="418.86" y="398.80" font-size="9.2" text-anchor="middle" fill="#111" stroke="#111" stroke-width="0.22" textLength="11.81" lengthAdjust="spacingAndGlyphs">1.7</text><text x="453.18" y="398.80" font-size="9.2" text-anchor="middle" fill="#111" stroke="#111" stroke-width="0.22" textLength="11.81" lengthAdjust="spacingAndGlyphs">1.8</text><text x="487.50" y="398.80" font-size="9.2" text-anchor="middle" fill="#111" stroke="#111" stroke-width="0.22" textLength="11.81" lengthAdjust="spacingAndGlyphs">1.9</text><text x="521.82" y="398.80" font-size="9.2" text-anchor="middle" fill="#111" stroke="#111" stroke-width="0.22" textLength="11.81" lengthAdjust="spacingAndGlyphs">1.9</text><text x="556.14" y="398.80" font-size="9.2" text-anchor="middle" fill="#111" stroke="#111" stroke-width="0.22" textLength="11.81" lengthAdjust="spacingAndGlyphs">1.9</text><text x="8.20" y="434.30" font-size="9.2" fill="#111" stroke="#111" stroke-width="0.22" textLength="31.03" lengthAdjust="spacingAndGlyphs">Average</text><text x="8.20" y="447.40" font-size="9.2" fill="#111" stroke="#111" stroke-width="0.22" textLength="26.39" lengthAdjust="spacingAndGlyphs">speeds</text><text x="75.66" y="441.70" font-size="9.2" font-weight="bold" text-anchor="middle" fill="#111" stroke="#111" stroke-width="0.5" textLength="16.68" lengthAdjust="spacingAndGlyphs">42.3</text><text x="109.98" y="441.70" font-size="9.2" font-weight="bold" text-anchor="middle" fill="#111" stroke="#111" stroke-width="0.5" textLength="16.68" lengthAdjust="spacingAndGlyphs">41.8</text><text x="144.30" y="441.70" font-size="9.2" font-weight="bold" text-anchor="middle" fill="#111" stroke="#111" stroke-width="0.5" textLength="16.68" lengthAdjust="spacingAndGlyphs">41.8</text><text x="178.62" y="441.70" font-size="9.2" font-weight="bold" text-anchor="middle" fill="#111" stroke="#111" stroke-width="0.5" textLength="16.68" lengthAdjust="spacingAndGlyphs">41.4</text><text x="212.94" y="441.70" font-size="9.2" font-weight="bold" text-anchor="middle" fill="#111" stroke="#111" stroke-width="0.5" textLength="16.68" lengthAdjust="spacingAndGlyphs">38.7</text><text x="247.26" y="441.70" font-size="9.2" font-weight="bold" text-anchor="middle" fill="#1D4285" stroke="#1D4285" stroke-width="0.5" textLength="16.68" lengthAdjust="spacingAndGlyphs">42.3</text><text x="281.58" y="441.70" font-size="9.2" font-weight="bold" text-anchor="middle" fill="#1D4285" stroke="#1D4285" stroke-width="0.5" textLength="16.68" lengthAdjust="spacingAndGlyphs">42.6</text><text x="315.90" y="441.70" font-size="9.2" font-weight="bold" text-anchor="middle" fill="#1D4285" stroke="#1D4285" stroke-width="0.5" textLength="16.68" lengthAdjust="spacingAndGlyphs">44.8</text><text x="350.22" y="441.70" font-size="9.2" font-weight="bold" text-anchor="middle" fill="#1D4285" stroke="#1D4285" stroke-width="0.5" textLength="16.68" lengthAdjust="spacingAndGlyphs">44.9</text><text x="384.54" y="441.70" font-size="9.2" font-weight="bold" text-anchor="middle" fill="#1D4285" stroke="#1D4285" stroke-width="0.5" textLength="16.68" lengthAdjust="spacingAndGlyphs">43.5</text><text x="418.86" y="441.70" font-size="9.2" font-weight="bold" text-anchor="middle" fill="#1D4285" stroke="#1D4285" stroke-width="0.5" textLength="16.68" lengthAdjust="spacingAndGlyphs">42.3</text><text x="453.18" y="441.70" font-size="9.2" font-weight="bold" text-anchor="middle" fill="#1D4285" stroke="#1D4285" stroke-width="0.5" textLength="16.68" lengthAdjust="spacingAndGlyphs">44.2</text><text x="487.50" y="441.70" font-size="9.2" font-weight="bold" text-anchor="middle" fill="#1D4285" stroke="#1D4285" stroke-width="0.5" textLength="16.68" lengthAdjust="spacingAndGlyphs">48.2</text><text x="521.82" y="441.70" font-size="9.2" font-weight="bold" text-anchor="middle" fill="#1D4285" stroke="#1D4285" stroke-width="0.5" textLength="16.68" lengthAdjust="spacingAndGlyphs">48.4</text><text x="556.14" y="441.70" font-size="9.2" font-weight="bold" text-anchor="middle" fill="#1D4285" stroke="#1D4285" stroke-width="0.5" textLength="16.68" lengthAdjust="spacingAndGlyphs">48.4</text></svg>
</body></html>
